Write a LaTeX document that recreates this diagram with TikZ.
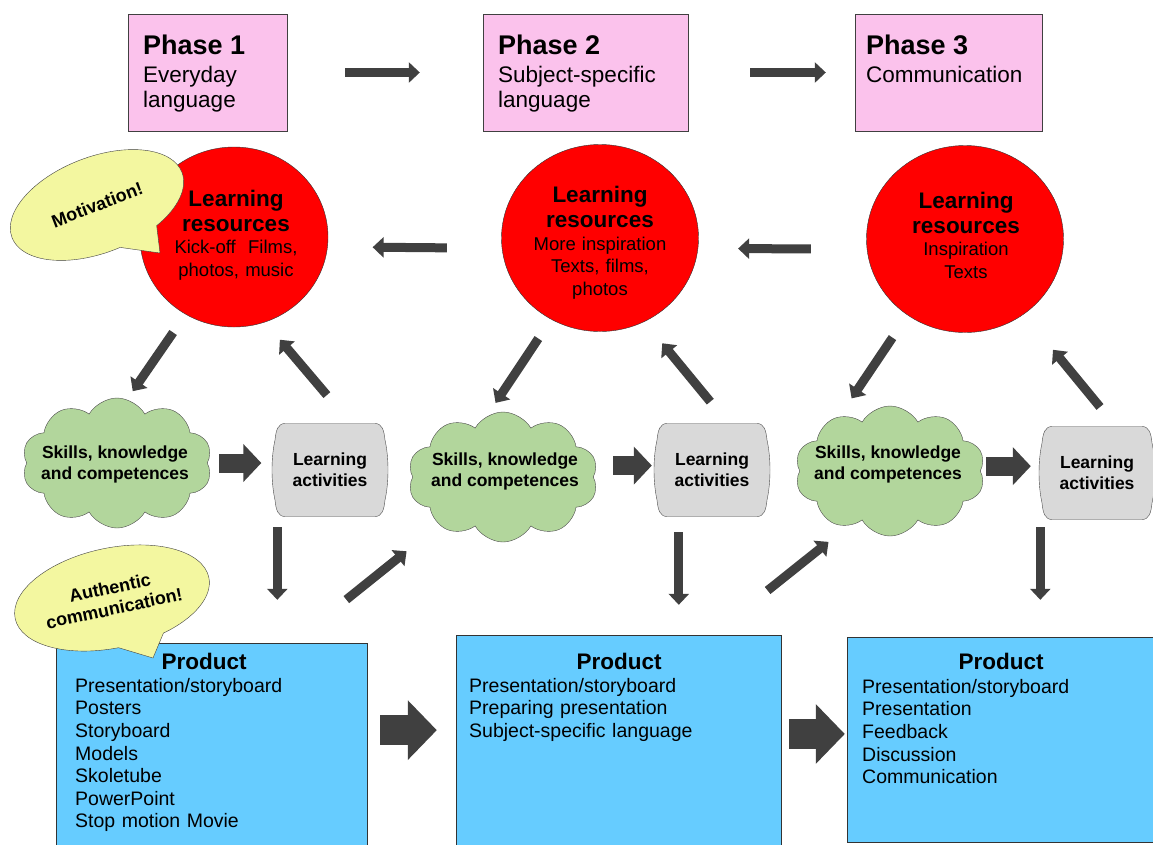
\documentclass[tikz,border=0pt]{standalone}
\usepackage{fontspec}
\setmainfont{Liberation Sans}
\usetikzlibrary{calc,arrows.meta,shapes.geometric,shapes.symbols,shapes.callouts}

\definecolor{phasepink}{RGB}{251,194,236}
\definecolor{resred}{RGB}{255,0,0}
\definecolor{skillgreen}{RGB}{178,214,156}
\definecolor{actgrey}{RGB}{217,217,217}
\definecolor{prodblue}{RGB}{102,204,255}
\definecolor{bubbleyellow}{RGB}{243,247,160}
\definecolor{arrowgrey}{RGB}{64,64,64}

\newcommand{\fs}[2]{\fontsize{#1}{#2}\selectfont}
\newcommand{\phasetitle}[1]{{\bfseries\fs{27}{30}#1\par}\vspace{3pt}}
\newcommand{\restitle}[1]{{\bfseries\fs{22.5}{25}#1\par}}

\tikzset{
  actpic/.pic={
    \draw[draw=black!70, fill=actgrey] (-45,-46.5) -- (45,-46.5)
      .. controls (52,-46.5) and (54,-40) .. (55,-30)
      .. controls (59,-12) and (59,12) .. (55,30)
      .. controls (54,40) and (52,46.5) .. (45,46.5) -- (-45,46.5)
      .. controls (-52,46.5) and (-54,40) .. (-55,30)
      .. controls (-59,12) and (-59,-12) .. (-55,-30)
      .. controls (-54,-40) and (-52,-46.5) .. (-45,-46.5) -- cycle;
  }
}

\begin{document}
\begin{tikzpicture}[x=1pt,y=1pt,yscale=-1,xscale=1,
  phasebox/.style={draw=black!75, fill=phasepink, minimum height=117pt, inner sep=0pt},
  phasetext/.style={anchor=north west, inner sep=0pt, text width=185pt, align=left, font=\fs{22.5}{25}},
  resbox/.style={ellipse, draw=black!80, fill=resred, minimum width=197pt, minimum height=187pt, inner sep=0pt},
  restext/.style={inner sep=0pt, text width=150pt, align=center, font=\fs{18.5}{22.5}},
  skillbox/.style={cloud, cloud puffs=10, cloud puff arc=120, aspect=1.5, draw=black!70, fill=skillgreen, minimum width=190pt, minimum height=130pt, inner sep=0pt},
  skilltext/.style={inner sep=0pt, align=center, font=\bfseries\fs{17.5}{21}},
  actbox/.style={rectangle, minimum width=115pt, minimum height=93pt, inner sep=0pt, align=center, font=\bfseries\fs{17.5}{21}},
  prodbox/.style={draw=black!80, fill=prodblue, inner sep=0pt},
  prodtitle/.style={inner sep=0pt, font=\bfseries\fs{22.5}{25}},
  prodlist/.style={anchor=north west, inner sep=0pt, text width=290pt, align=left, font=\fs{19.5}{22.6}},
  bubble/.style={ellipse callout, draw=black!75, fill=bubbleyellow, callout pointer arc=28, inner sep=0pt, align=center, font=\bfseries\fs{18}{21}},
  thinarrow/.style={draw=arrowgrey, line width=9pt, -{Triangle[width=20pt,length=11pt]}},
  fatarrow/.style={draw=arrowgrey, line width=19pt, -{Triangle[width=37pt,length=18pt]}},
  bigarrow/.style={draw=arrowgrey, line width=30pt, -{Triangle[width=58pt,length=29pt]}}
]
% Background
\path[use as bounding box, fill=white] (0,0) rectangle (1153,844);

% Phase Boxes
\node[phasebox, minimum width=159pt] (ph1) at (207.5,72.5) {};
\node[phasebox, minimum width=205pt] (ph2) at (585.5,72.5) {};
\node[phasebox, minimum width=187pt] (ph3) at (948.5,72.5) {};
% Text Node
\node[phasetext] (ph1t) at (143,35) {\phasetitle{Phase 1}Everyday\\language};
% Text Node
\node[phasetext] (ph2t) at (498,35) {\phasetitle{Phase 2}Subject-specific\\language};
% Text Node
\node[phasetext] (ph3t) at (866,35) {\phasetitle{Phase 3}Communication};

% Learning Resources
\node[resbox, minimum width=188pt, minimum height=180pt] (res1) at (234,237) {};
\node[resbox] (res2) at (600,238) {};
\node[resbox] (res3) at (965,239) {};
% Text Node
\node[restext] (res1t) at (236,235) {\restitle{Learning\\resources}Kick-off~~Films,\\photos, music};
% Text Node
\node[restext] (res2t) at (600,243) {\restitle{Learning\\resources}More inspiration\\Texts, films,\\photos};
% Text Node
\node[restext] (res3t) at (966,235) {\restitle{Learning\\resources}Inspiration\\Texts};

% Speech Bubble
\node[bubble, minimum width=182pt, minimum height=96pt, rotate=21, callout absolute pointer={(160,253)}] (motiv) at (97,205) {Motivation!};

% Skills Clouds
\node[skillbox] (sk1) at (117,463) {};
\node[skillbox] (sk2) at (503,477) {};
\node[skillbox] (sk3) at (890,471) {};
% Text Node
\node[skilltext] (sk1t) at (115,464) {Skills, knowledge\\and competences};
% Text Node
\node[skilltext] (sk2t) at (505,471) {Skills, knowledge\\and competences};
% Text Node
\node[skilltext] (sk3t) at (888,464) {Skills, knowledge\\and competences};

% Learning Activities
\pic (la1s) at (330,470) {actpic};
\pic (la2s) at (712,470) {actpic};
\pic (la3s) at (1097,473) {actpic};
\node[actbox] (la1) at (330,470) {Learning\\activities};
\node[actbox] (la2) at (712,470) {Learning\\activities};
\node[actbox] (la3) at (1097,473) {Learning\\activities};

% Products
\node[prodbox, minimum width=311pt, minimum height=207pt] (prod1) at (211.5,746.5) {};
\node[prodbox, minimum width=325pt, minimum height=215pt] (prod2) at (618.5,742.5) {};
\node[prodbox, minimum width=313pt, minimum height=205pt] (prod3) at (1003.5,739.5) {};
% Text Node
\node[prodtitle] (prod1t) at (204,661) {Product};
\node[prodtitle] (prod2t) at (619,661) {Product};
\node[prodtitle] (prod3t) at (1001,661) {Product};
% Text Node
\node[prodlist] (prod1l) at (75,678) {Presentation/storyboard\\Posters\\Storyboard\\Models\\Skoletube\\PowerPoint\\Stop motion Movie};
% Text Node
\node[prodlist] (prod2l) at (469,678) {Presentation/storyboard\\Preparing presentation\\Subject-specific language};
% Text Node
\node[prodlist] (prod3l) at (862,679) {Presentation/storyboard\\Presentation\\Feedback\\Discussion\\Communication};

% Speech Bubble
\node[bubble, minimum width=198pt, minimum height=100pt, rotate=12, callout absolute pointer={(153,658)}] (authc) at (112,598) {Authentic\\communication!};

% Connection
\draw[thinarrow, shorten <=58pt, shorten >=63pt] (ph1.east) -- (ph2.west);
% Connection
\draw[thinarrow, shorten <=62pt, shorten >=29pt] (ph2.east) -- (ph3.west);
% Connection
\draw[thinarrow, shorten <=55pt, shorten >=45pt] (res2.186) -- (res1.354);
% Connection
\draw[thinarrow, shorten <=56pt, shorten >=40pt] (res3.186) -- (res2.354);
% Connection
\draw[thinarrow, shorten <=22pt, shorten >=10pt] (res1.238) -- (sk1.81);
% Connection
\draw[thinarrow, shorten <=37pt, shorten >=23pt] (la1.66) -- (res1.290);
% Connection
\draw[thinarrow, shorten <=23pt, shorten >=16pt] (res2.239) -- (sk2.105);
% Connection
\draw[thinarrow, shorten <=28pt, shorten >=28pt] (la2.71) -- (res2.298);
% Connection
\draw[thinarrow, shorten <=27pt, shorten >=22pt] (res3.233) -- (sk3.133);
% Connection
\draw[thinarrow, shorten <=25pt, shorten >=46pt] (la3.68) -- (res3.308);
% Connection
\draw[fatarrow, shorten <=12pt, shorten >=11pt] (sk1.east) -- (sk1.east -| la1.west);
% Connection
\draw[fatarrow, shorten <=17pt, shorten >=2.5pt] (sk2.7) -- (sk2.7 -| la2.west);
% Connection
\draw[fatarrow, shorten <=4pt, shorten >=8.5pt] (sk3.3) -- (sk3.3 -| la3.west);
% Connection
\coordinate (la1d) at ($(la1.south west)+(5,0)$);
\coordinate (la2d) at ($(la2.south west)+(24.5,0)$);
\coordinate (la3d) at ($(la3.south west)+(1,0)$);
\draw[thinarrow, shorten <=10.5pt, shorten >=43pt] (la1d) -- (la1d |- prod1.north);
\draw[thinarrow, shorten <=15.5pt, shorten >=30pt] (la2d) -- (la2d |- prod2.north);
\draw[thinarrow, shorten <=7.5pt, shorten >=37pt] (la3d) -- (la3d |- prod3.north);
% Connection
\draw[thinarrow, shorten <=69pt, shorten >=42pt] (prod1.52) -- (sk2.217);
% Connection
\draw[thinarrow, shorten <=71pt, shorten >=26pt] (prod2.49) -- (sk3.233);
% Connection
\draw[bigarrow, shorten <=13pt, shorten >=19pt] (prod1.6) -- (prod1.6 -| prod2.west);
% Connection
\draw[bigarrow, shorten <=8pt, shorten >=2pt] (prod2.3) -- (prod2.3 -| prod3.west);

\end{tikzpicture}
\end{document}
